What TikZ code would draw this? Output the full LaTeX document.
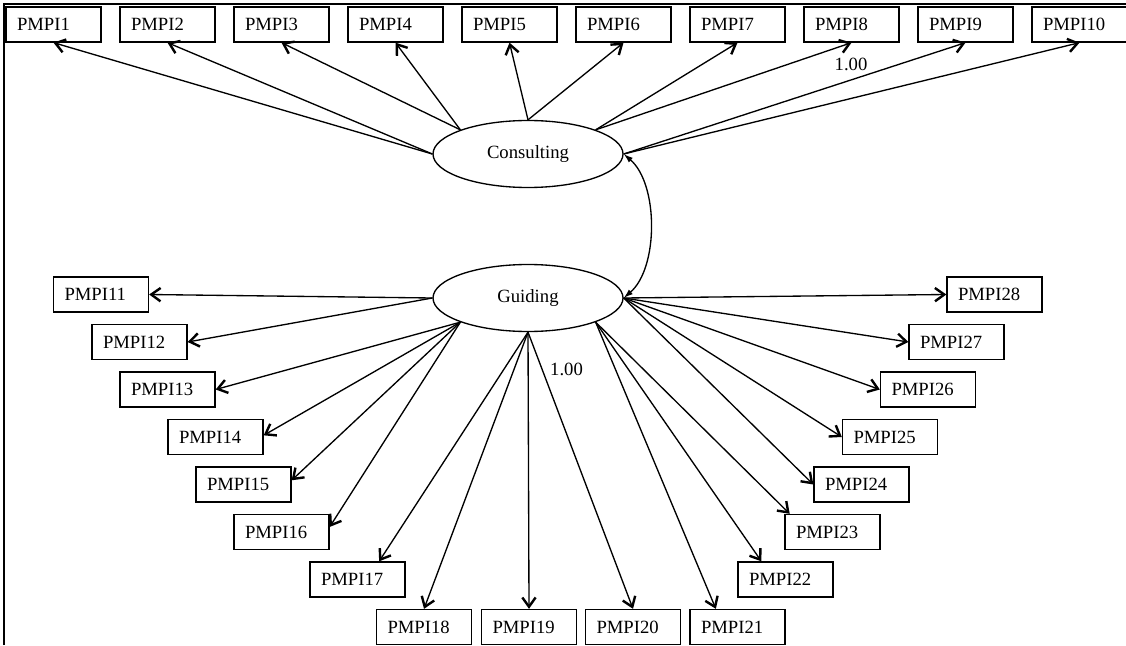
\documentclass[tikz,border=0pt]{standalone}
\usepackage{fontspec}
\setmainfont{Liberation Serif}
\usetikzlibrary{arrows.meta,shapes.geometric}
\begin{document}
\begin{tikzpicture}[x=0.75pt,y=-0.75pt,
  every node/.style={font=\fontsize{14pt}{16pt}\selectfont},
  indicator/.style={draw, line width=1pt, rectangle, minimum height=26.25pt,
    text width=54.75pt, inner xsep=8.25pt, inner ysep=0pt, align=left},
  factor/.style={draw, line width=1pt, ellipse, minimum width=142.5pt,
    minimum height=50.25pt, inner sep=0pt},
  load/.style={line width=1pt, -{Straight Barb[length=7pt,width=10pt,line width=1.8pt]}},
  cov/.style={line width=1pt, {Latex[length=7pt,width=4.5pt]}-{Latex[length=7pt,width=4.5pt]}},
  coef/.style={inner sep=0pt}
]
\useasboundingbox (0,0) rectangle (1126,645);
\fill[white] (0,0) rectangle (1126,645);
% frame lines along the top and left edges
\draw[line width=1.5pt] (4,645) -- (4,4) -- (1126,4);

% latent factors
\node[factor] (C) at (528,154) {Consulting};
\node[factor] (G) at (528,298) {Guiding};

% indicators of Consulting (top row)
\foreach \i in {1,...,10}
  \node[indicator] (p\i) at ({53.5+114*(\i-1)},24.5) {PMPI\i};

% indicators of Guiding (fan below)
\node[indicator] (p11) at (101,294.5) {PMPI11};
\node[indicator] (p12) at (139.5,342) {PMPI12};
\node[indicator] (p13) at (167.5,389.5) {PMPI13};
\node[indicator] (p14) at (215.5,437) {PMPI14};
\node[indicator] (p15) at (243.5,484.5) {PMPI15};
\node[indicator] (p16) at (281.5,532) {PMPI16};
\node[indicator] (p17) at (357.5,579.5) {PMPI17};
\node[indicator] (p18) at (424,627) {PMPI18};
\node[indicator] (p19) at (529,627) {PMPI19};
\node[indicator] (p20) at (633,627) {PMPI20};
\node[indicator] (p21) at (737.5,627) {PMPI21};
\node[indicator] (p22) at (785.5,579.5) {PMPI22};
\node[indicator] (p23) at (832.5,532) {PMPI23};
\node[indicator] (p24) at (861.5,484.5) {PMPI24};
\node[indicator] (p25) at (890,437) {PMPI25};
\node[indicator] (p26) at (928,389.5) {PMPI26};
\node[indicator] (p27) at (956.5,342) {PMPI27};
\node[indicator] (p28) at (994.5,294.5) {PMPI28};

% loadings of Consulting
\foreach \i/\a in {1/west,2/west,3/north west,4/north west,5/north,6/north,
                   7/north east,8/north east,9/east,10/east}
  \draw[load] (C.\a) -- (p\i.south);

% loadings of Guiding
\draw[load] (G.west) -- (p11.east);
\draw[load] (G.west) -- (p12.east);
\draw[load] (G.south west) -- (p13.east);
\draw[load] (G.south west) -- (p14.2);
\draw[load] (G.south west) -- (p15.5);
\draw[load] (G.south west) -- (p16.6);
\draw[load] (G.south) -- (p17.40);
\draw[load] (G.south) -- (p18.north);
\draw[load] (G.south) -- (p19.north);
\draw[load] (G.south) -- (p20.north);
\draw[load] (G.south east) -- (p21.140);
\draw[load] (G.south east) -- (p22.143);
\draw[load] (G.south east) -- (p23.157);
\draw[load] (G.east) -- (p24.west);
\draw[load] (G.east) -- (p25.west);
\draw[load] (G.east) -- (p26.west);
\draw[load] (G.east) -- (p27.west);
\draw[load] (G.east) -- (p28.west);

% factor covariance
\draw[cov] (G.east) .. controls +(35,-30) and +(35,30) .. (C.east);

% fixed loadings
\node[coef] (f1) at (851,64) {1.00};
\node[coef] (f2) at (566.5,369) {1.00};
\end{tikzpicture}
\end{document}
